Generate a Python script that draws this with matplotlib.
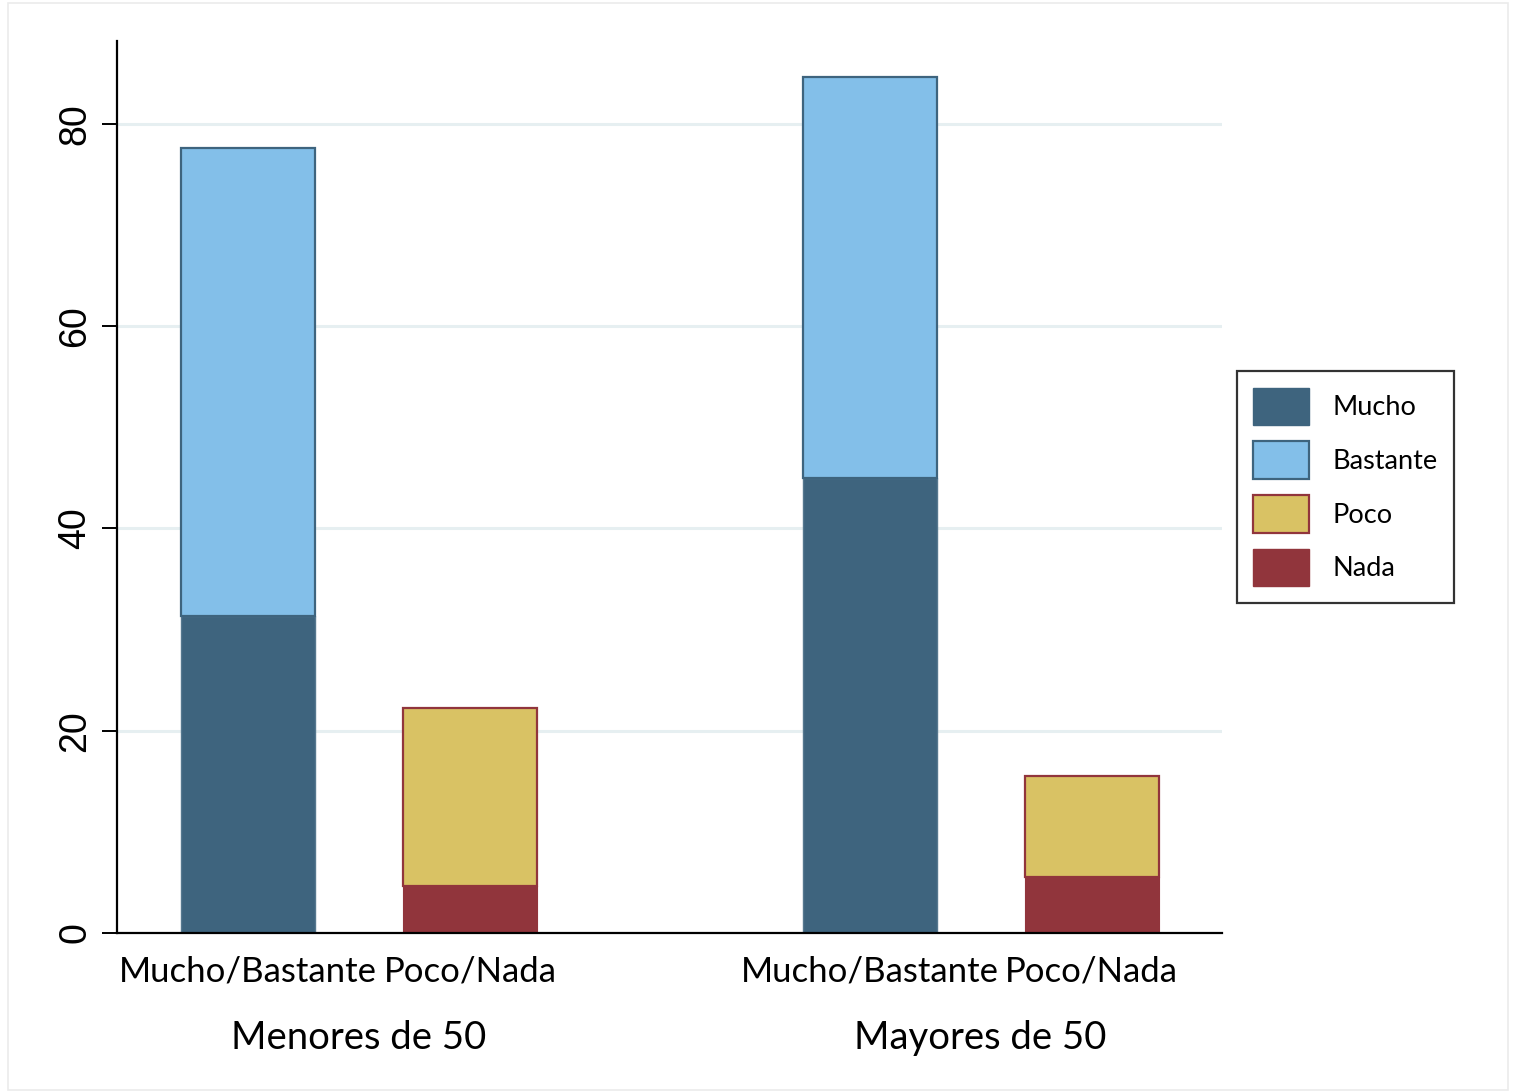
import matplotlib.pyplot as plt
from matplotlib.patches import Patch, Rectangle
from matplotlib.transforms import blended_transform_factory

groups = ["Menores de 50", "Mayores de 50"]
bar_labels = ["Mucho/Bastante", "Poco/Nada"]
mucho = [31.3, 45.0]
bastante = [46.3, 39.6]
poco = [17.6, 10.0]
nada = [4.6, 5.5]

c_mucho = "#3e647e"
c_bastante = "#83bfe9"
c_poco = "#d9c264"
c_nada = "#91353c"

fig = plt.figure(figsize=(15.13, 10.92), dpi=100)
fig.patches.append(Rectangle((8 / 1513, 2 / 1092), 1500 / 1513, 1087 / 1092,
                             transform=fig.transFigure, fill=False,
                             edgecolor="#ebebeb", linewidth=1.2))
ax = fig.add_axes([117 / 1513, 1 - 933 / 1092, (1222 - 117) / 1513, (933 - 41) / 1092])

gap = 2.8
width = 0.604
pos_a = [g * gap for g in range(len(groups))]
pos_b = [g * gap + 1 for g in range(len(groups))]

ax.bar(pos_a, mucho, width, color=c_mucho, edgecolor="#56788f", linewidth=1.0, zorder=3)
ax.bar(pos_a, bastante, width, bottom=mucho, color=c_bastante, edgecolor=c_mucho,
       linewidth=1.6, zorder=3)
ax.bar(pos_b, nada, width, color=c_nada, edgecolor=c_nada, linewidth=0.8, zorder=3)
ax.bar(pos_b, poco, width, bottom=nada, color=c_poco, edgecolor=c_nada,
       linewidth=1.6, zorder=3)

ax.set_xlim(-0.59, 4.387)
ax.set_ylim(0, 88.2)
ax.set_yticks([0, 20, 40, 60, 80])
ax.set_yticklabels(["0", "20", "40", "60", "80"], rotation=90, va="center",
                   fontfamily="Liberation Sans", fontsize=27)
ax.tick_params(axis="y", length=11, width=1.4, pad=6)

ticks = []
labels = []
for a, b in zip(pos_a, pos_b):
    ticks += [a, b]
    labels += bar_labels
ax.set_xticks(ticks)
ax.set_xticklabels(labels, fontfamily="Lato", fontsize=25)
ax.tick_params(axis="x", length=0, pad=16)

for y in [20, 40, 60, 80]:
    ax.axhline(y, color="#e6eff1", linewidth=2.2, zorder=1)

for s in ["top", "right"]:
    ax.spines[s].set_visible(False)
for s in ["left", "bottom"]:
    ax.spines[s].set_linewidth(1.6)
    ax.spines[s].set_zorder(4)

trans = blended_transform_factory(ax.transData, ax.transAxes)
for g, name in enumerate(groups):
    ax.text((pos_a[g] + pos_b[g]) / 2, -0.1177, name, transform=trans,
            ha="center", va="center", fontfamily="Lato", fontsize=27.5)

handles = [
    Patch(facecolor=c_mucho, edgecolor=c_mucho, label="Mucho"),
    Patch(facecolor=c_bastante, edgecolor=c_mucho, linewidth=1.6, label="Bastante"),
    Patch(facecolor=c_poco, edgecolor=c_nada, linewidth=1.6, label="Poco"),
    Patch(facecolor=c_nada, edgecolor=c_nada, label="Nada"),
]
leg = fig.legend(handles=handles, loc="center left",
                 bbox_to_anchor=(1237 / 1513, 1 - 487 / 1092),
                 prop={"family": "Lato", "size": 19.5}, frameon=True, fancybox=False,
                 edgecolor="black", handlelength=2.04, handleheight=1.75,
                 labelspacing=0.6, handletextpad=0.9, borderpad=0.6,
                 borderaxespad=0)
leg.get_frame().set_linewidth(1.6)

fig.savefig("out.png", dpi=100, facecolor="white")
